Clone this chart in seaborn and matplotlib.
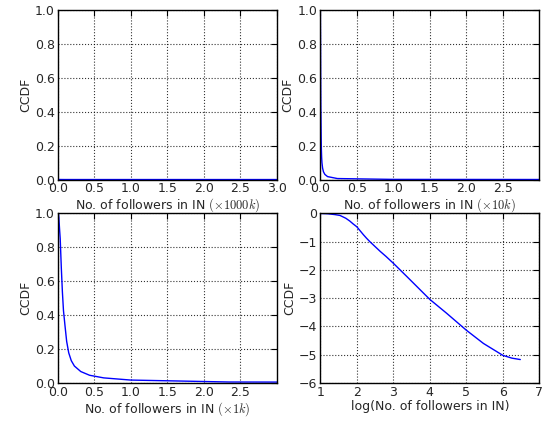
import numpy as np
import pandas as pd
import seaborn as sns
import matplotlib
matplotlib.use("Agg")
import matplotlib.pyplot as plt

# CCDF of followers (log10 units)
log_followers = [1.0, 1.2, 1.4, 1.54, 1.7, 1.81, 1.9, 2.0, 2.09, 2.18, 2.27,
                 2.36, 2.5, 2.64, 2.8, 3.0, 3.37, 4.0, 4.46, 5.0, 5.47, 6.0,
                 6.25, 6.48]
log_ccdf = [0.0, -0.01, -0.04, -0.07, -0.17, -0.27, -0.37, -0.47, -0.61,
            -0.75, -0.88, -1.0, -1.17, -1.34, -1.52, -1.76, -2.23, -3.04,
            -3.53, -4.13, -4.6, -5.02, -5.12, -5.17]

# panel units: divisor for followers and axis label suffix
units = [1e6, 1e4, 1e3]
unit_labels = [r"$(\times 1000k)$", r"$(\times 10k)$", r"$(\times 1k)$"]
lin_xticks = [[0.0, 0.5, 1.0, 1.5, 2.0, 2.5, 3.0],
              [0.0, 0.5, 1.0, 1.5, 2.0, 2.5],
              [0.0, 0.5, 1.0, 1.5, 2.0, 2.5]]
lin_xmax = [3.0, 2.999, 2.999]

sns.set_theme(style="white")
plt.rcParams["font.family"] = ["DejaVu Sans"]
plt.rcParams["mathtext.fontset"] = "cm"
plt.rcParams["axes.edgecolor"] = "black"
plt.rcParams["axes.linewidth"] = 1.0

df = pd.DataFrame({"logx": log_followers, "logy": log_ccdf})
df["followers"] = 10 ** df["logx"]
df["ccdf"] = 10 ** df["logy"]

fig, axes = plt.subplots(2, 2, figsize=(5.53, 4.22), dpi=100)
fig.subplots_adjust(left=0.1043, right=0.9752, top=0.9763, bottom=0.0924,
                    wspace=0.199, hspace=0.2)

lin_axes = [axes[0, 0], axes[0, 1], axes[1, 0]]
for ax, u, lab, ticks, xmax in zip(lin_axes, units, unit_labels,
                                   lin_xticks, lin_xmax):
    d = pd.DataFrame({"x": df["followers"] / u, "y": df["ccdf"]})
    sns.lineplot(data=d, x="x", y="y", ax=ax, color="blue", linewidth=1,
                 sort=False, estimator=None)
    ax.set_xlim(0, xmax)
    ax.set_ylim(0, 1.0)
    ax.set_xticks(ticks)
    ax.set_xticklabels([f"{t:.1f}" for t in ticks])
    ax.set_yticks([0.0, 0.2, 0.4, 0.6, 0.8, 1.0])
    ax.set_yticklabels(["0.0", "0.2", "0.4", "0.6", "0.8", "1.0"])
    ax.set_xlabel("No. of followers in IN " + lab, fontsize=9, labelpad=1)

ax = axes[1, 1]
sns.lineplot(data=df, x="logx", y="logy", ax=ax, color="blue", linewidth=1,
             sort=False, estimator=None)
ax.set_xlim(1, 7)
ax.set_ylim(-6, 0)
ax.set_xticks(range(1, 8))
ax.set_yticks(range(-6, 1))
ax.set_xlabel("log(No. of followers in IN)", fontsize=9, labelpad=1)

for ax in axes.flat:
    ax.set_ylabel("CCDF", fontsize=9, labelpad=2)
    ax.grid(True, color="black", linestyle=":", linewidth=0.8, alpha=0.8)
    ax.tick_params(direction="in", top=True, right=True, length=4,
                   width=0.8, labelsize=9, pad=2, color="black")
    for s in ax.spines.values():
        s.set_color("black")
        s.set_linewidth(1.0)

plt.savefig("out.png", dpi=100)
